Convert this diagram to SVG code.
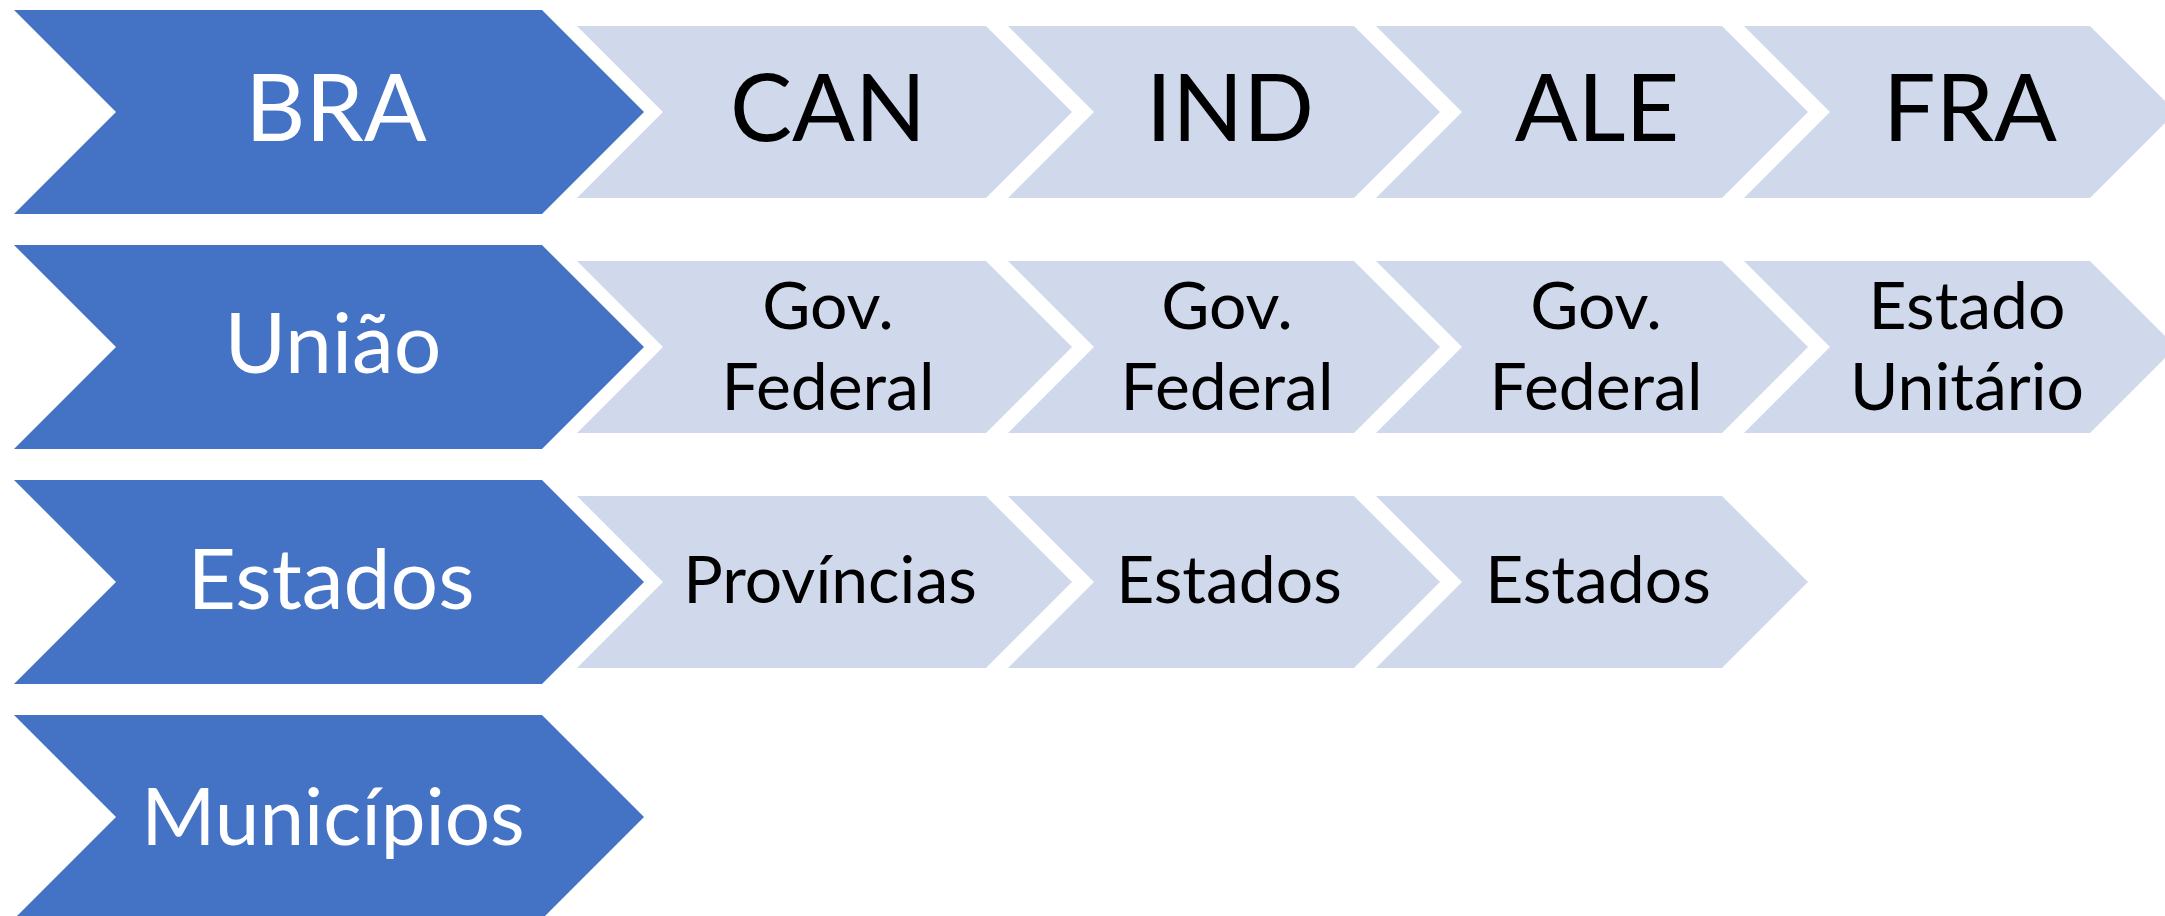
<svg xmlns="http://www.w3.org/2000/svg" width="2165" height="916" viewBox="0 0 2165 916">
<style>
.blue{fill:#4472C4}
.light{fill:#D0D8EB}
.t{font-family:Lato,"Open Sans","Liberation Sans",sans-serif;text-anchor:middle}
.tw{fill:#FFFFFF}
.tb{fill:#000000}
.big{font-size:93px}
.mid{font-size:84px}
.mun{font-size:80px}
.sm{font-size:66px}
</style>
<defs>
<polygon id="bchev" points="14,-102 542,-102 644,0 542,102 14,102 116,0"/>
<polygon id="lchevW" points="0,-86 409,-86 495,0 409,86 0,86 86,0"/>
<polygon id="lchev" points="0,-86 346,-86 432,0 346,86 0,86 86,0"/>
</defs>
<rect width="2165" height="916" fill="#FFFFFF"/>
<g id="connectors"></g>

<g id="bra"><use href="#bchev" class="blue" transform="translate(0,112)"/><text class="t tw big" x="336" y="141">BRA</text></g>
<g id="can"><use href="#lchevW" class="light" transform="translate(577,112)"/><text class="t tb big" x="828" y="141">CAN</text></g>
<g id="ind"><use href="#lchev" class="light" transform="translate(1008,112)"/><text class="t tb big" x="1230" y="141">IND</text></g>
<g id="ale"><use href="#lchev" class="light" transform="translate(1376,112)"/><text class="t tb big" x="1597" y="141">ALE</text></g>
<g id="fra"><use href="#lchev" class="light" transform="translate(1744,112)"/><text class="t tb big" x="1970" y="141">FRA</text></g>

<g id="uniao"><use href="#bchev" class="blue" transform="translate(0,347)"/><text class="t tw mid" x="333" y="373">União</text></g>
<g id="can-uniao"><use href="#lchevW" class="light" transform="translate(577,347)"/><text class="t tb sm" x="828" y="329">Gov.</text><text class="t tb sm" x="828" y="410">Federal</text></g>
<g id="ind-uniao"><use href="#lchev" class="light" transform="translate(1008,347)"/><text class="t tb sm" x="1227" y="329">Gov.</text><text class="t tb sm" x="1227" y="410">Federal</text></g>
<g id="ale-uniao"><use href="#lchev" class="light" transform="translate(1376,347)"/><text class="t tb sm" x="1596" y="329">Gov.</text><text class="t tb sm" x="1596" y="410">Federal</text></g>
<g id="fra-uniao"><use href="#lchev" class="light" transform="translate(1744,347)"/><text class="t tb sm" x="1967" y="329">Estado</text><text class="t tb sm" x="1967" y="410">Unitário</text></g>

<g id="estados"><use href="#bchev" class="blue" transform="translate(0,582)"/><text class="t tw mid" x="331" y="609">Estados</text></g>
<g id="can-estados"><use href="#lchevW" class="light" transform="translate(577,582)"/><text class="t tb sm" x="830" y="603">Províncias</text></g>
<g id="ind-estados"><use href="#lchev" class="light" transform="translate(1008,582)"/><text class="t tb sm" x="1229" y="603">Estados</text></g>
<g id="ale-estados"><use href="#lchev" class="light" transform="translate(1376,582)"/><text class="t tb sm" x="1598" y="603">Estados</text></g>

<g id="municipios"><use href="#bchev" class="blue" transform="translate(0,817)"/><text class="t tw mun" x="333" y="845">Municípios</text></g>
</svg>
